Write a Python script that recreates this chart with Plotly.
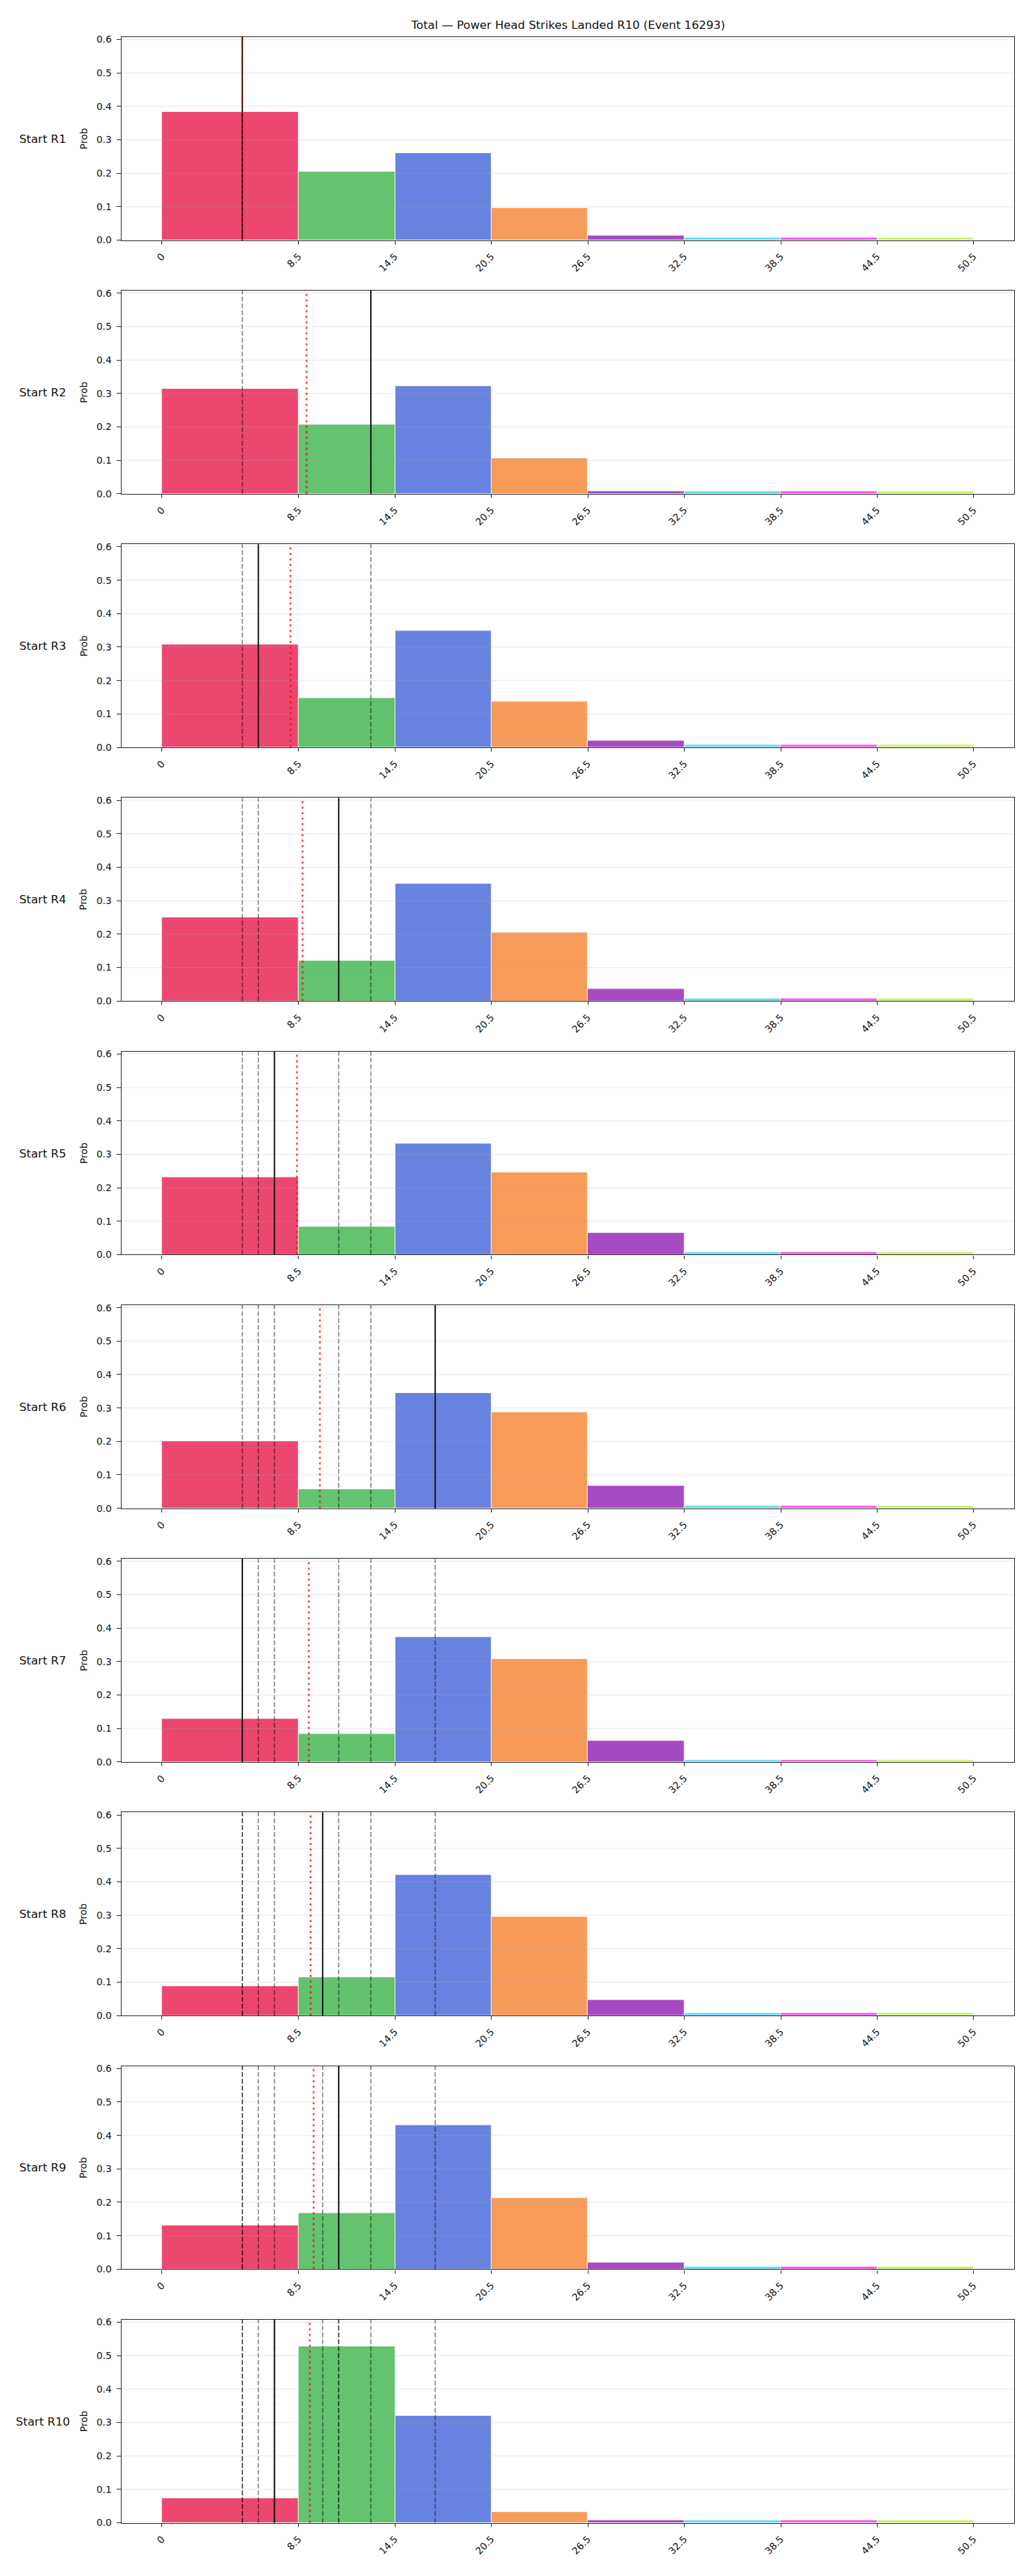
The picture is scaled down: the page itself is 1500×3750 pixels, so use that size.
import plotly.graph_objects as go
from plotly.subplots import make_subplots

# ---------------- data ----------------
bin_edges = [0, 8.5, 14.5, 20.5, 26.5, 32.5, 38.5, 44.5, 50.5]
tick_labels = ["0", "8.5", "14.5", "20.5", "26.5", "32.5", "38.5", "44.5", "50.5"]
bin_colors = ["#e6194b", "#3cb44b", "#4363d8", "#f58231",
              "#911eb4", "#42d4f4", "#f032e6", "#bfef45"]
round_labels = ["Start R1", "Start R2", "Start R3", "Start R4", "Start R5",
                "Start R6", "Start R7", "Start R8", "Start R9", "Start R10"]

# observed value per round (black solid = current round, grey dashed = earlier rounds)
observed = [5, 13, 6, 11, 7, 17, 5, 10, 11, 7]
# running mean of observed values (red dotted)
running_mean = [5.0, 9.0, 8.0, 8.75, 8.4, 9.83, 9.14, 9.25, 9.44, 9.2]

probs_r1 = [0.384, 0.204, 0.261, 0.096, 0.014, 0.008, 0.008, 0.008]
probs_r2 = [0.313, 0.208, 0.323, 0.106, 0.008, 0.008, 0.008, 0.008]
probs_r3 = [0.308, 0.147, 0.349, 0.138, 0.020, 0.008, 0.008, 0.008]
probs_r4 = [0.251, 0.120, 0.351, 0.204, 0.036, 0.008, 0.008, 0.008]
probs_r5 = [0.231, 0.083, 0.333, 0.247, 0.065, 0.008, 0.008, 0.008]
probs_r6 = [0.200, 0.057, 0.344, 0.287, 0.068, 0.008, 0.008, 0.008]
probs_r7 = [0.129, 0.084, 0.373, 0.307, 0.064, 0.006, 0.006, 0.006]
probs_r8 = [0.088, 0.115, 0.420, 0.295, 0.046, 0.008, 0.008, 0.008]
probs_r9 = [0.130, 0.168, 0.431, 0.213, 0.020, 0.008, 0.008, 0.008]
probs_r10 = [0.073, 0.527, 0.321, 0.033, 0.008, 0.008, 0.008, 0.008]
all_probs = [probs_r1, probs_r2, probs_r3, probs_r4, probs_r5,
             probs_r6, probs_r7, probs_r8, probs_r9, probs_r10]

y_ticks = [0.0, 0.1, 0.2, 0.3, 0.4, 0.5, 0.6]
title_text = "Total \u2014 Power Head Strikes Landed R10 (Event 16293)"

# ---------------- layout constants ----------------
W, H = 1500, 3750
FONT = "DejaVu Sans"
n = len(round_labels)
ax_left, ax_right = 176.7, 1477.0
first_top, panel_h, period = 50.0, 296.7, 370.4
xpad = (bin_edges[-1] - bin_edges[0]) * 0.05
x_range = [bin_edges[0] - xpad, bin_edges[-1] + xpad]
y_range = [0, max(max(p) for p in all_probs) * 1.153]

fig = make_subplots(rows=n, cols=1)

lefts = bin_edges[:-1]
widths = [bin_edges[i + 1] - bin_edges[i] for i in range(len(bin_edges) - 1)]

shapes = []
annotations = []
for i in range(n):
    r = i + 1
    sfx = "" if r == 1 else str(r)
    fig.add_trace(go.Bar(
        x=lefts, y=all_probs[i], width=widths, offset=0,
        marker=dict(color=bin_colors, opacity=0.8,
                    line=dict(color="white", width=0.8)),
        showlegend=False, hoverinfo="x+y"), row=r, col=1)

    top = first_top + period * i
    bot = top + panel_h
    fig.layout["xaxis" + sfx].update(
        domain=[ax_left / W, ax_right / W], range=x_range,
        tickmode="array", tickvals=bin_edges, ticktext=tick_labels,
        tickangle=-45, ticks="outside", ticklen=5, tickwidth=1.1, tickcolor="#222",
        ticklabelstandoff=4,
        showline=True, mirror=True, linecolor="#222", linewidth=1.4,
        showgrid=False, zeroline=False,
        tickfont=dict(family=FONT, size=14, color="#111"))
    fig.layout["yaxis" + sfx].update(
        domain=[1 - bot / H, 1 - top / H], range=y_range,
        tickmode="array", tickvals=y_ticks, tickformat=".1f",
        ticks="outside", ticklen=6, tickwidth=1.1, tickcolor="#222",
        ticklabelstandoff=4,
        showline=True, mirror=True, linecolor="#222", linewidth=1.4,
        showgrid=False, zeroline=False,
        tickfont=dict(family=FONT, size=14, color="#111"))

    xref = "x" + sfx
    yref = "y" + sfx
    # grid lines drawn above bars (as in the reference)
    for t in y_ticks[1:]:
        shapes.append(dict(type="line", layer="above", xref=xref + " domain", x0=0, x1=1,
                           yref=yref, y0=t, y1=t,
                           line=dict(color="rgba(176,176,176,0.3)", width=1)))
    # earlier rounds: grey dashed
    for v in observed[:i]:
        shapes.append(dict(type="line", layer="above", xref=xref, x0=v, x1=v,
                           yref=yref + " domain", y0=0, y1=1,
                           line=dict(color="rgba(0,0,0,0.5)", width=1.6, dash="7px,3px")))
    # current round: black solid
    shapes.append(dict(type="line", layer="above", xref=xref, x0=observed[i], x1=observed[i],
                       yref=yref + " domain", y0=0, y1=1,
                       line=dict(color="#111111", width=2)))
    # running mean: red dotted
    shapes.append(dict(type="line", layer="above", xref=xref, x0=running_mean[i], x1=running_mean[i],
                       yref=yref + " domain", y0=0, y1=1,
                       line=dict(color="rgba(255,0,0,0.75)", width=2.6, dash="3px,5px")))

    mid = 1 - (top + panel_h / 2) / H
    annotations.append(dict(text=round_labels[i], xref="paper", yref="paper",
                            x=62 / W, y=mid, xanchor="center", yanchor="middle",
                            showarrow=False, font=dict(family=FONT, size=16.7, color="#111")))
    annotations.append(dict(text="Prob", xref="paper", yref="paper",
                            x=121.7 / W, y=mid, xanchor="center", yanchor="middle",
                            textangle=-90, showarrow=False,
                            font=dict(family=FONT, size=14, color="#111")))

annotations.append(dict(text=title_text, xref="paper", yref="paper",
                        x=(ax_left + ax_right) / 2 / W, y=1 - 31.7 / H,
                        xanchor="center", yanchor="middle", showarrow=False,
                        font=dict(family=FONT, size=16.7, color="#111")))

fig.update_layout(
    width=W, height=H, margin=dict(l=0, r=0, t=0, b=0),
    paper_bgcolor="white", plot_bgcolor="white",
    bargap=0, shapes=shapes, annotations=annotations,
    font=dict(family=FONT, color="#111"), showlegend=False)

fig.write_html("out.html")
